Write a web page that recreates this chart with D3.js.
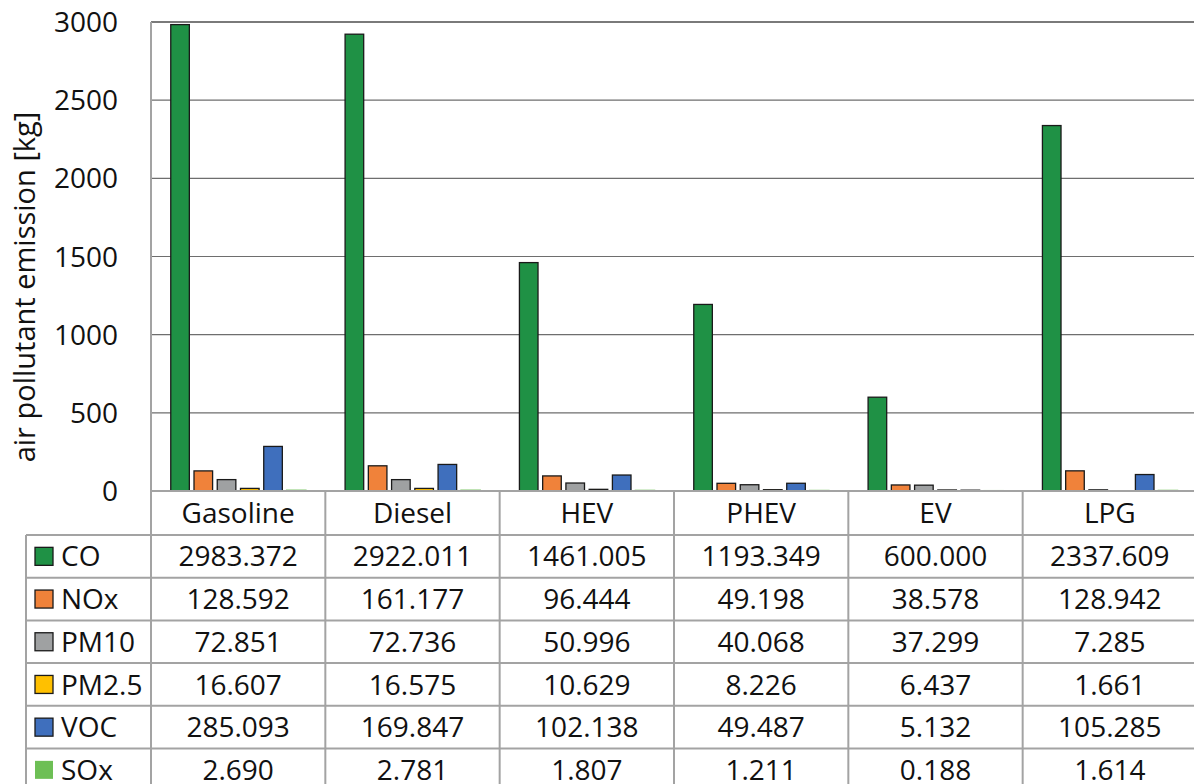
<!DOCTYPE html>
<html>
<head>
<meta charset="utf-8">
<script src="https://cdn.jsdelivr.net/npm/d3@7"></script>
<style>
  body { margin: 0; background: #fff; }
  svg text { font-family: "Open Sans", sans-serif; fill: #111; }
</style>
</head>
<body>
<svg id="chart" width="1194" height="784"></svg>
<script>
// data
const vehicles = ["Gasoline", "Diesel", "HEV", "PHEV", "EV", "LPG"];
const pollutants = ["CO", "NOx", "PM10", "PM2.5", "VOC", "SOx"];
const CO    = [2983.372, 2922.011, 1461.005, 1193.349, 600.000, 2337.609];
const NOx   = [128.592, 161.177, 96.444, 49.198, 38.578, 128.942];
const PM10  = [72.851, 72.736, 50.996, 40.068, 37.299, 7.285];
const PM25  = [16.607, 16.575, 10.629, 8.226, 6.437, 1.661];
const VOC   = [285.093, 169.847, 102.138, 49.487, 5.132, 105.285];
const SOx   = [2.690, 2.781, 1.807, 1.211, 0.188, 1.614];
const yTicks = [0, 500, 1000, 1500, 2000, 2500, 3000];

const seriesValues = [CO, NOx, PM10, PM25, VOC, SOx];
const colors = ["#1f9145", "#f0823a", "#9fa1a2", "#ffc000", "#3f6fbd", "#6dbf55"];

const svg = d3.select("#chart");
const plotL = 151, plotR = 1197, plotT = 22, base = 491;
const rowH = 42.7, headH = 44, legendLeft = 26;

const x0 = d3.scaleBand().domain(vehicles).range([plotL, plotR]).padding(0);
const x1 = d3.scaleBand().domain(pollutants).range([0, x0.bandwidth()])
  .paddingInner(0.2).paddingOuter(0.85);
const y = d3.scaleLinear().domain([0, 3000]).range([base, plotT]);

// gridlines
svg.append("g")
  .selectAll("line")
  .data(yTicks.filter(d => d > 0))
  .enter()
  .append("line")
  .attr("x1", plotL).attr("x2", plotR)
  .attr("y1", d => y(d)).attr("y2", d => y(d))
  .attr("stroke", d => d === 3000 ? "#7a7a7a" : "#6e6e6e")
  .attr("stroke-width", d => d === 3000 ? 2 : 1.2);

// tick labels
svg.append("g")
  .selectAll("text")
  .data(yTicks)
  .enter()
  .append("text")
  .attr("x", 118)
  .attr("y", d => y(d))
  .attr("dy", "0.36em")
  .attr("text-anchor", "end")
  .style("font-size", "28px")
  .text(d => d);

// y title
svg.append("text")
  .attr("transform", "translate(35,287) rotate(-90)")
  .attr("text-anchor", "middle")
  .style("font-size", "29px")
  .text("air pollutant emission [kg]");

// bars
const groups = svg.append("g")
  .selectAll("g")
  .data(vehicles)
  .enter()
  .append("g")
  .attr("transform", d => "translate(" + x0(d) + ",0)");

groups.selectAll("rect")
  .data((v, i) => pollutants.map((p, j) => ({p: p, j: j, value: seriesValues[j][i]})))
  .enter()
  .append("rect")
  .attr("x", d => x1(d.p))
  .attr("width", x1.bandwidth())
  .attr("y", d => y(d.value))
  .attr("height", d => Math.max(0, base - y(d.value)))
  .attr("fill", d => colors[d.j])
  .attr("stroke", d => d.p === "SOx" ? colors[d.j] : "#1a1a1a")
  .attr("stroke-width", d => d.p === "SOx" ? 2 : 1.3);

// data table
const tableColor = "#a3a3a3";
const tableBottom = base + headH + rowH * pollutants.length;
const tbl = svg.append("g");

// horizontal rules
tbl.append("line")
  .attr("x1", plotL).attr("x2", plotR).attr("y1", base).attr("y2", base)
  .attr("stroke", tableColor).attr("stroke-width", 2);
tbl.selectAll("line.row")
  .data(d3.range(pollutants.length))
  .enter()
  .append("line")
  .attr("class", "row")
  .attr("x1", legendLeft).attr("x2", plotR)
  .attr("y1", i => base + headH + i * rowH)
  .attr("y2", i => base + headH + i * rowH)
  .attr("stroke", tableColor).attr("stroke-width", 2);

// vertical rules
tbl.selectAll("line.col")
  .data(vehicles)
  .enter()
  .append("line")
  .attr("class", "col")
  .attr("x1", d => x0(d)).attr("x2", d => x0(d))
  .attr("y1", d => d === vehicles[0] ? plotT : base)
  .attr("y2", tableBottom)
  .attr("stroke", tableColor).attr("stroke-width", 2);
tbl.append("line")
  .attr("x1", legendLeft).attr("x2", legendLeft)
  .attr("y1", base + headH).attr("y2", tableBottom)
  .attr("stroke", tableColor).attr("stroke-width", 2);

// category header
tbl.selectAll("text.cat")
  .data(vehicles)
  .enter()
  .append("text")
  .attr("class", "cat")
  .attr("x", d => x0(d) + x0.bandwidth() / 2)
  .attr("y", base + headH / 2)
  .attr("dy", "0.36em")
  .attr("text-anchor", "middle")
  .style("font-size", "28px")
  .text(d => d);

// rows
const rows = tbl.selectAll("g.rowG")
  .data(pollutants)
  .enter()
  .append("g")
  .attr("class", "rowG")
  .attr("transform", (d, i) => "translate(0," + (base + headH + i * rowH + rowH / 2) + ")");

rows.append("rect")
  .attr("x", 35).attr("y", -9).attr("width", 18).attr("height", 18)
  .attr("fill", (d, i) => colors[i])
  .attr("stroke", d => d === "SOx" ? "none" : "#1a1a1a")
  .attr("stroke-width", 1.3);

rows.append("text")
  .attr("x", 61)
  .attr("dy", "0.36em")
  .style("font-size", "28px")
  .text(d => d);

rows.selectAll("text.val")
  .data((p, j) => seriesValues[j])
  .enter()
  .append("text")
  .attr("class", "val")
  .attr("x", (d, i) => x0(vehicles[i]) + x0.bandwidth() / 2)
  .attr("dy", "0.36em")
  .attr("text-anchor", "middle")
  .style("font-size", "28px")
  .text(d => d.toFixed(3));
</script>
</body>
</html>
